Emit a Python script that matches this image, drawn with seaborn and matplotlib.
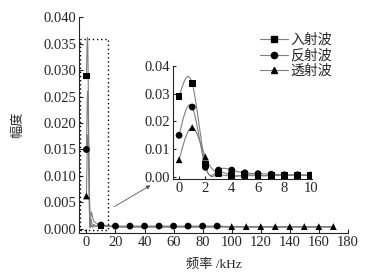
"""
Spectrum amplitude of incident / reflected / transmitted waves,
with a zoomed inset of the 0-10 kHz range.
"""

import matplotlib
matplotlib.use('Agg')
import matplotlib.pyplot as plt
from matplotlib.lines import Line2D
from matplotlib.patches import Rectangle
import numpy as np
import seaborn as sns

sns.set_style('ticks')
plt.rcParams['font.family'] = ['Liberation Serif', 'Noto Sans CJK SC']
plt.rcParams['font.size'] = 10
plt.rcParams['axes.unicode_minus'] = False

# Data
series_names = ['入射波', '反射波', '透射波']
series_markers = ['s', 'o', '^']

freq_low = [0, 1, 2, 3, 4, 5, 6, 7, 8, 9, 10]
incident_low = [0.0289, 0.0337, 0.0045, 0.0015, 0.0004, 0.0008, 0.0005, 0.0005, 0.0006, 0.0006, 0.0005]
reflected_low = [0.0150, 0.0252, 0.0035, 0.0025, 0.0025, 0.0015, 0.0012, 0.0010, 0.0008, 0.0008, 0.0007]
transmitted_low = [0.0062, 0.0178, 0.0072, 0.0012, 0.0004, 0.0005, 0.0005, 0.0005, 0.0006, 0.0006, 0.0006]

freq_high = [20, 30, 40, 50, 60, 70, 80, 90, 100, 110, 120, 130, 140, 150, 160, 170]
incident_high = [0.0004, 0.0004, 0.0004, 0.0004, 0.0004, 0.0004, 0.0004, 0.0004,
                 0.0003, 0.0003, 0.0003, 0.0003, 0.0003, 0.0003, 0.0003, 0.0003]
reflected_high = [0.0005, 0.0005, 0.0005, 0.0005, 0.0005, 0.0005, 0.0005, 0.0005,
                  0.0004, 0.0004, 0.0004, 0.0004, 0.0004, 0.0004, 0.0004, 0.0004]
transmitted_high = [0.0003, 0.0003, 0.0003, 0.0003, 0.0003, 0.0003, 0.0003, 0.0003,
                    0.0004, 0.0004, 0.0004, 0.0004, 0.0004, 0.0004, 0.0004, 0.0004]

# which frequencies carry a marker on the full-range plot
main_marker_freqs = [
    [0, 10],
    [0, 10, 20, 30, 40, 50, 60, 70, 80, 90],
    [0, 100, 110, 120, 130, 140, 150, 160, 170],
]

LINE_COLOR = '#7f7f7f'
MARKER_SIZE = 24
TICK_FS = 10.5


def natural_spline(x, y, n=400):
    """Natural cubic spline through the points (for drawing smooth curves)."""
    x = np.asarray(x, float)
    y = np.asarray(y, float)
    k = len(x)
    h = np.diff(x)
    A = np.zeros((k, k))
    r = np.zeros(k)
    A[0, 0] = A[-1, -1] = 1
    for i in range(1, k - 1):
        A[i, i - 1] = h[i - 1]
        A[i, i] = 2 * (h[i - 1] + h[i])
        A[i, i + 1] = h[i]
        r[i] = 6 * ((y[i + 1] - y[i]) / h[i] - (y[i] - y[i - 1]) / h[i - 1])
    m = np.linalg.solve(A, r)
    xs = np.linspace(x[0], x[-1], n)
    idx = np.clip(np.searchsorted(x, xs) - 1, 0, k - 2)
    x0, x1 = x[idx], x[idx + 1]
    hh = x1 - x0
    a = (x1 - xs) / hh
    b = (xs - x0) / hh
    ys = a * y[idx] + b * y[idx + 1] + ((a ** 3 - a) * m[idx] + (b ** 3 - b) * m[idx + 1]) * hh ** 2 / 6
    return xs, ys


low = [incident_low, reflected_low, transmitted_low]
high = [incident_high, reflected_high, transmitted_high]

fig = plt.figure(figsize=(3.9, 2.77), dpi=100)
ax = fig.add_axes([0.203, 0.159, 0.689, 0.78])

for vals_low, vals_high, mk, mfreqs in zip(low, high, series_markers, main_marker_freqs):
    fx = freq_low + freq_high
    fy = vals_low + vals_high
    xs, ys = natural_spline(freq_low, vals_low)
    xs = np.concatenate([xs, freq_high])
    ys = np.concatenate([ys, vals_high])
    sns.lineplot(x=xs, y=ys, color=LINE_COLOR, lw=0.8, sort=False, ax=ax)
    mx = [f for f in fx if f in mfreqs]
    my = [v for f, v in zip(fx, fy) if f in mfreqs]
    sns.scatterplot(x=mx, y=my, marker=mk, color='black', s=MARKER_SIZE, edgecolor='none', ax=ax, zorder=3)

ax.set_xlim(-5, 180)
ax.set_ylim(-0.0008, 0.0401)
ax.set_xticks(range(0, 181, 20))
ax.set_yticks(np.arange(0, 0.0401, 0.005))
ax.yaxis.set_major_formatter(matplotlib.ticker.FormatStrFormatter('%.3f'))
ax.tick_params(direction='in', length=3, width=0.8, labelsize=TICK_FS, pad=2)
sns.despine(ax=ax)
ax.set_xlabel('频率 /kHz', fontsize=9.5, labelpad=7)
ax.set_ylabel('幅度', fontsize=9.5, labelpad=14)

# dotted zoom box
ax.add_patch(Rectangle((-4.5, -0.0003), 19.5, 0.0363, fill=False, ls=(0, (1, 2)),
                       lw=1.0, ec='black', zorder=4))

# legend
handles = [Line2D([0], [0], color=LINE_COLOR, lw=0.8, marker=m, mfc='black', mec='black', ms=4.5)
           for m in series_markers]
fig.legend(handles, series_names, loc='upper left', bbox_to_anchor=(0.635, 0.925),
           frameon=False, fontsize=10, handlelength=2.0, labelspacing=0.15, handletextpad=0.15)

# inset
ins = fig.add_axes([0.444, 0.354, 0.356, 0.408])
ins.set_facecolor('white')
for vals, mk in zip(low, series_markers):
    xs, ys = natural_spline(freq_low, vals)
    sns.lineplot(x=xs, y=ys, color=LINE_COLOR, lw=0.8, sort=False, ax=ins)
    sns.scatterplot(x=freq_low, y=vals, marker=mk, color='black', s=MARKER_SIZE, edgecolor='none', ax=ins, zorder=3)
ins.set_xlim(-0.45, 10.1)
ins.set_ylim(-0.0007, 0.04)
ins.set_xticks(range(0, 11, 2))
ins.set_yticks([0, 0.01, 0.02, 0.03, 0.04])
ins.yaxis.set_major_formatter(matplotlib.ticker.FormatStrFormatter('%.2f'))
ins.tick_params(direction='in', length=2, width=0.8, labelsize=TICK_FS, pad=2)
sns.despine(ax=ins)

# arrow from box to inset
fig.add_artist(matplotlib.patches.FancyArrowPatch(
    (0.287, 0.249), (0.392, 0.336), transform=fig.transFigure,
    arrowstyle='-|>', mutation_scale=6, color='#555555', lw=0.6))

fig.savefig('out.png', dpi=100)
